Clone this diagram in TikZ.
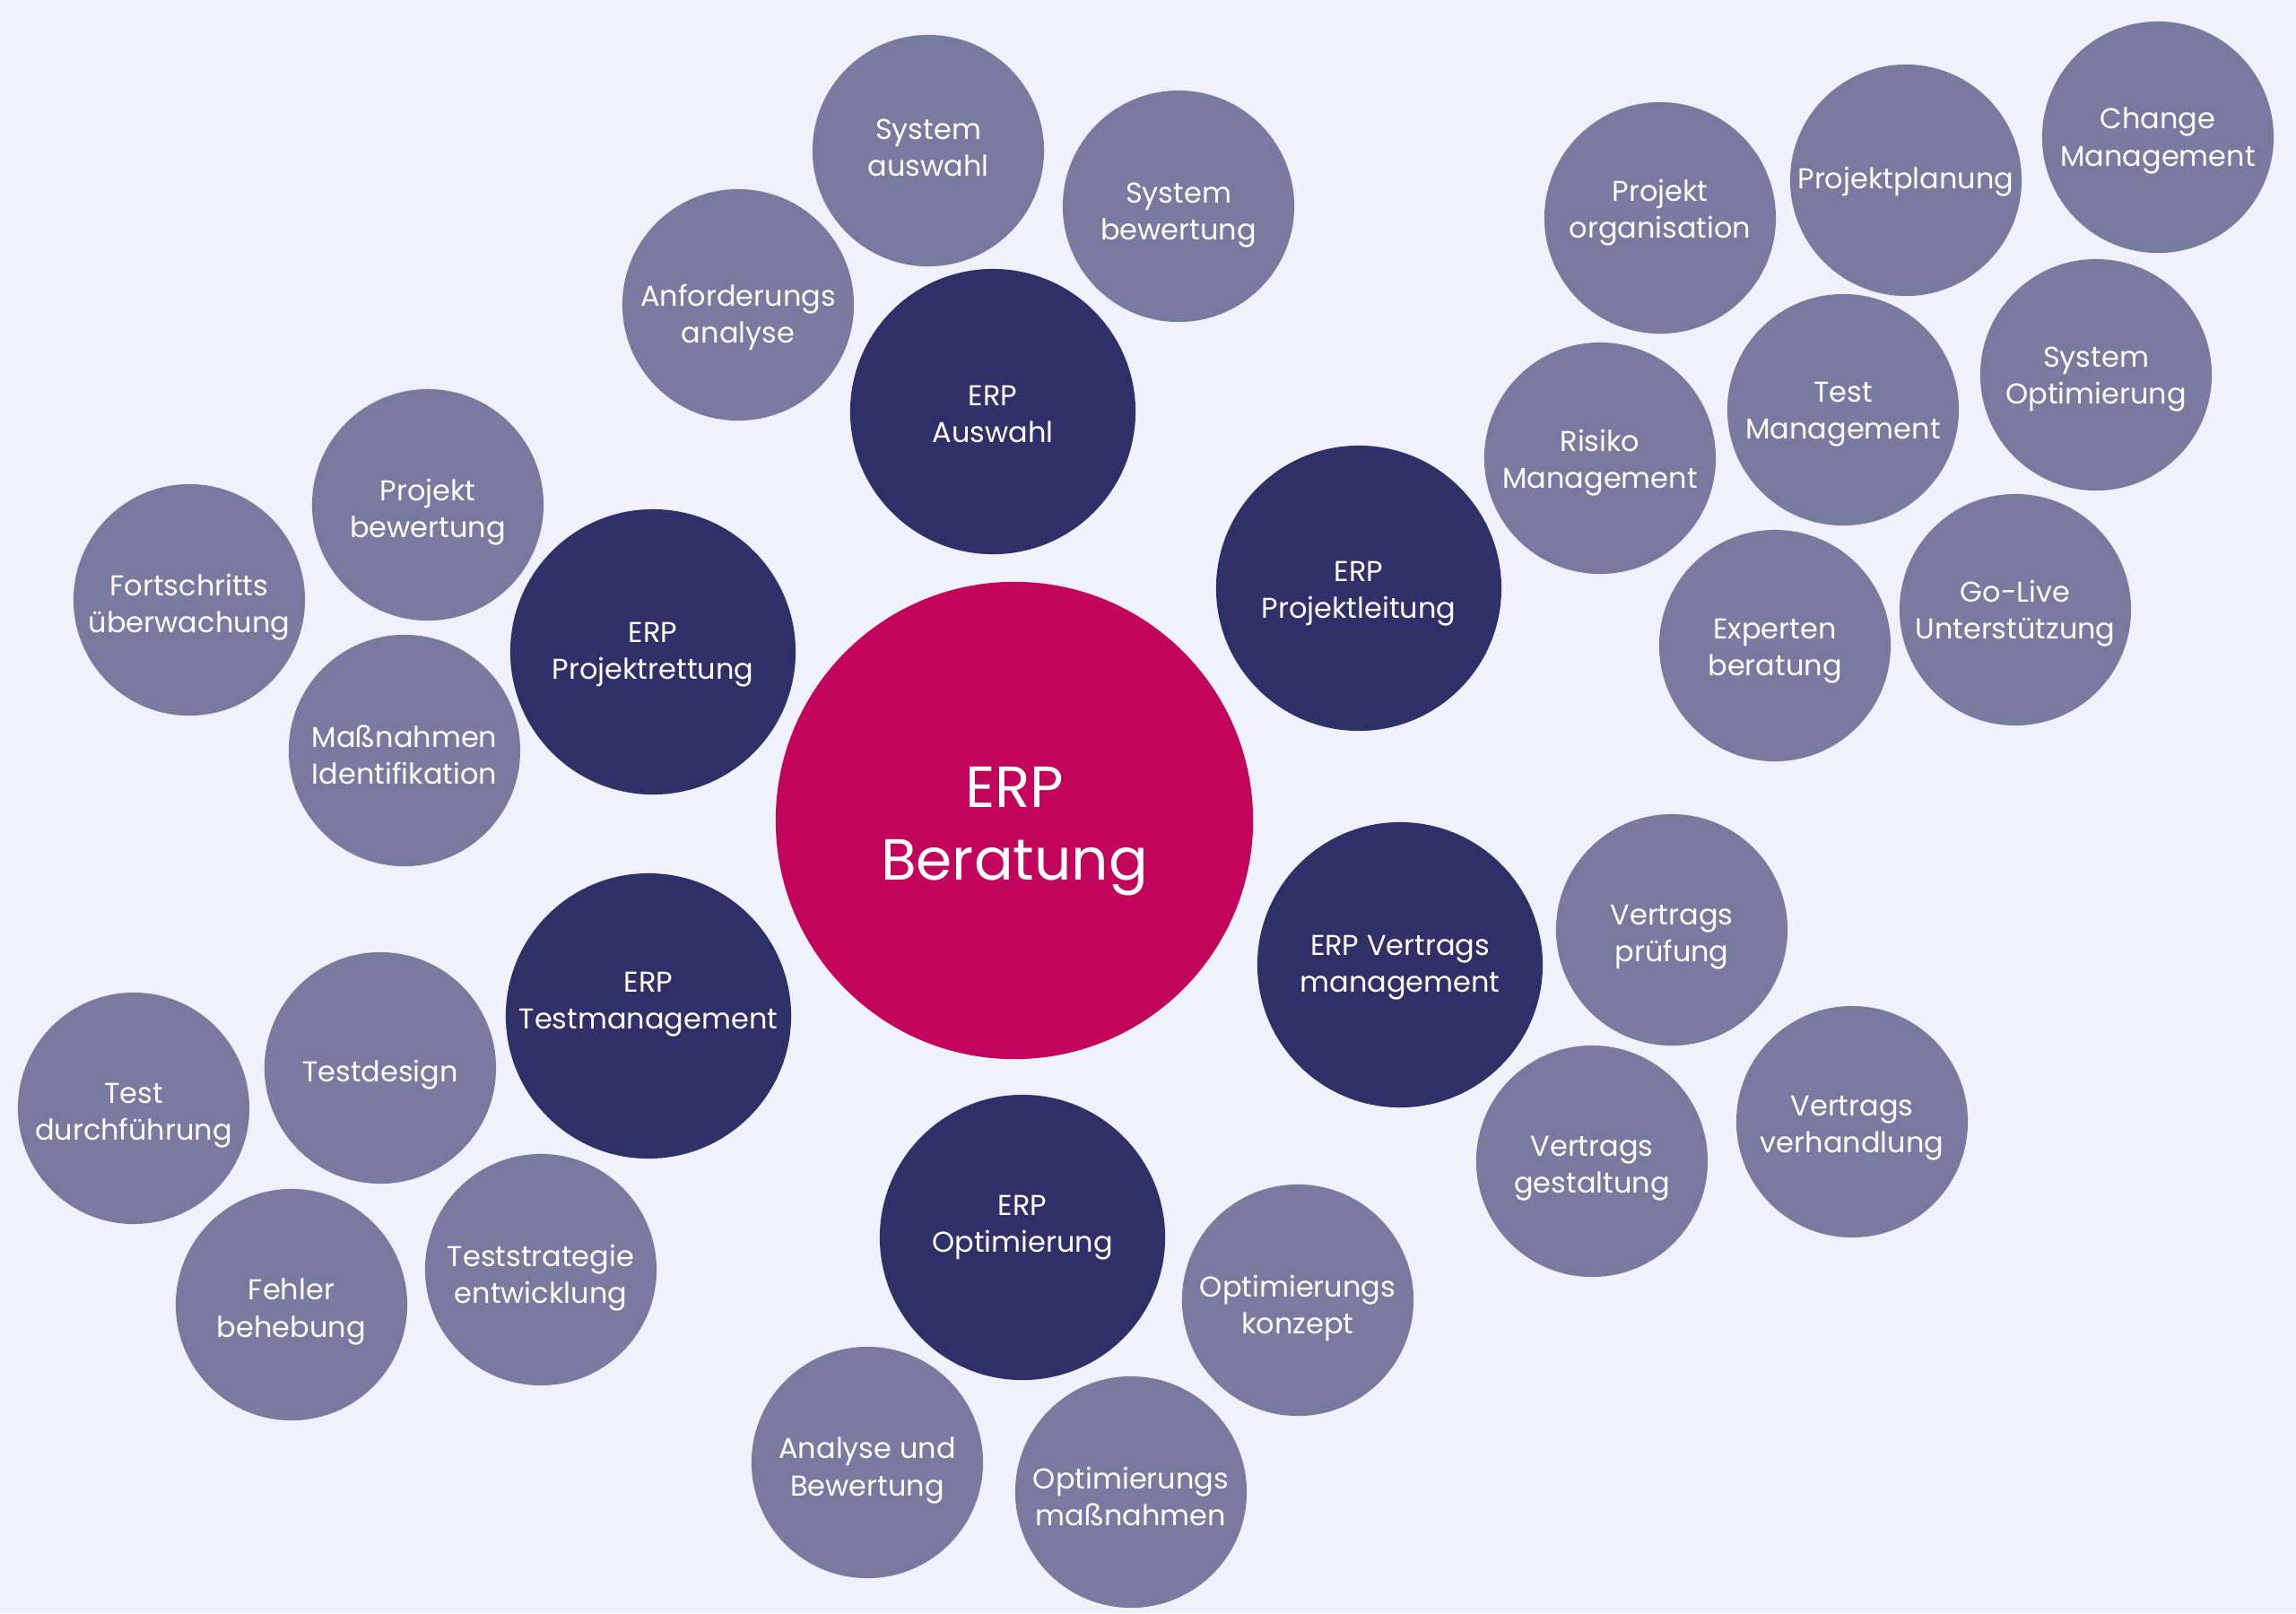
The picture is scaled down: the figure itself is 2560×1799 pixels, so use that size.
\documentclass[tikz,border=0pt]{standalone}
\usepackage{fontspec}
\setmainfont{Poppins}
\definecolor{bgc}{HTML}{EFF2FB}
\definecolor{lightc}{HTML}{787AA0}
\definecolor{darkc}{HTML}{303068}
\definecolor{hubc}{HTML}{C3045D}
% style, name, position, text offset (px, downwards), text
\newcommand\bubble[5]{%
  \node[#1] (#2) at (#3) {};
  \node[#1txt] (#2-t) at ([yshift={-(#4)*0.2845pt}]#2.center) {#5};}
\begin{document}
\begin{tikzpicture}[x=0.01cm,y=-0.01cm,
  bub/.style={circle,inner sep=0pt},
  leaf/.style={bub,fill=lightc,minimum size=2.58cm},
  main/.style={bub,fill=darkc,minimum size=3.18cm},
  hub/.style={bub,fill=hubc,minimum size=5.32cm},
  btxt/.style={inner sep=0pt,text=white,align=center},
  leaftxt/.style={btxt,font=\fontsize{9.1}{11.8}\selectfont},
  maintxt/.style={btxt,font=\fontsize{9.1}{11.8}\selectfont},
  hubtxt/.style={btxt,font=\fontsize{18.4}{23.2}\selectfont}]
\fill[bgc] (0,0) rectangle (2560,1799);
\useasboundingbox (0,0) rectangle (2560,1799);
% hub
\bubble{hub}{hub}{1131,915}{12}{ERP\\Beratung}
% main nodes
\bubble{main}{auswahl}{1107,459}{3}{ERP\\Auswahl}
\bubble{main}{leitung}{1515,656}{6}{ERP\\Projektleitung}
\bubble{main}{rettung}{728,727}{3}{ERP\\Projektrettung}
\bubble{main}{vertrag}{1561,1076}{3}{ERP Vertrags\\management}
\bubble{main}{test}{723,1133}{-13}{ERP\\Testmanagement}
\bubble{main}{opt}{1140,1380}{-11}{ERP\\Optimierung}
% leaves
\bubble{leaf}{sysaus}{1035,168}{-3}{System\\auswahl}
\bubble{leaf}{sysbew}{1314,230}{10}{System\\bewertung}
\bubble{leaf}{anf}{823,340}{14}{Anforderungs\\analyse}
\bubble{leaf}{porg}{1851,243}{-6}{Projekt\\organisation}
\bubble{leaf}{pplan}{2125,201}{2}{Projektplanung}
\bubble{leaf}{change}{2406,153}{4}{Change\\Management}
\bubble{leaf}{risiko}{1784,511}{5}{Risiko\\Management}
\bubble{leaf}{testm}{2055,457}{5}{Test\\Management}
\bubble{leaf}{sysopt}{2337,418}{5}{System\\Optimierung}
\bubble{leaf}{exp}{1979,720}{6}{Experten\\beratung}
\bubble{leaf}{golive}{2247,680}{4}{Go-Live\\Unterstützung}
\bubble{leaf}{pbew}{477,563}{8}{Projekt\\bewertung}
\bubble{leaf}{fort}{211,669}{8}{Fortschritts\\überwachung}
\bubble{leaf}{mass}{451,837}{5}{Maßnahmen\\Identifikation}
\bubble{leaf}{vpruef}{1864,1037}{8}{Vertrags\\prüfung}
\bubble{leaf}{vverh}{2065,1251}{7}{Vertrags\\verhandlung}
\bubble{leaf}{vgest}{1775,1295}{8}{Vertrags\\gestaltung}
\bubble{leaf}{tdurch}{149,1236}{8}{Test\\durchführung}
\bubble{leaf}{tdes}{424,1191}{8}{Testdesign}
\bubble{leaf}{tstrat}{603,1416}{9}{Teststrategie\\entwicklung}
\bubble{leaf}{fehler}{325,1455}{8}{Fehler\\behebung}
\bubble{leaf}{okonz}{1447,1450}{9}{Optimierungs\\konzept}
\bubble{leaf}{analyse}{967,1631}{9}{Analyse und\\Bewertung}
\bubble{leaf}{omass}{1261,1664}{5}{Optimierungs\\maßnahmen}
\end{tikzpicture}
\end{document}
